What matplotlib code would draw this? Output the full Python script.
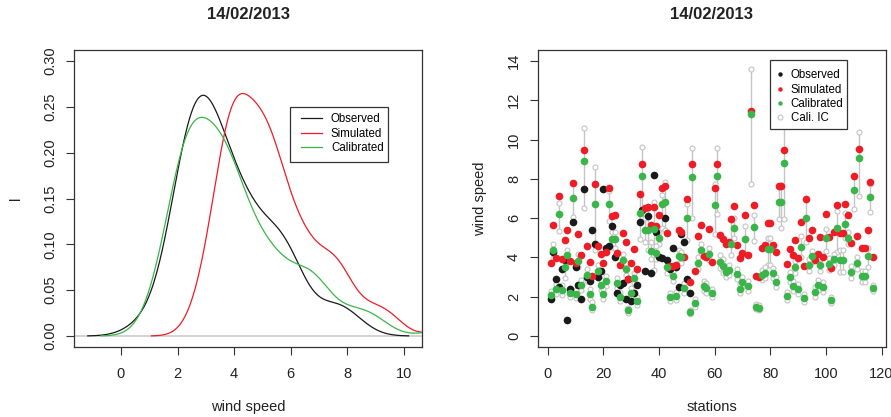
import numpy as np
import matplotlib
matplotlib.use("Agg")
import matplotlib.pyplot as plt
from matplotlib.patches import Rectangle

plt.rcParams['font.family'] = ['Liberation Sans', 'DejaVu Sans']

title = "14/02/2013"

# observed wind speed (only first 51 stations have observations)
observed = [1.9, 4.3, 2.9, 2.5, 3.4, 3.85, 0.8, 2.4, 5.8, 3.5,
            2.6, 1.9, 7.5, 3.0, 2.8, 5.4, 4.7, 3.0, 3.3, 7.5,
            4.5, 4.6, 5.6, 4.0, 2.2, 2.6, 2.7, 1.9, 2.9, 1.8,
            2.2, 2.6, 5.8, 6.4, 3.3, 6.1, 3.2, 8.2, 5.3, 4.0,
            3.95, 6.0, 3.85, 3.4, 4.5, 3.5, 2.5, 5.2, 4.8, 2.9,
            2.2]

simulated = [3.7, 5.65, 3.95, 7.15, 3.9, 4.9, 5.4, 3.8, 7.8, 3.7,
             5.2, 4.1, 9.45, 4.6, 3.75, 3.05, 7.75, 4.6, 4.15, 3.7,
             4.3, 7.55, 6.1, 6.15, 4.25, 3.6, 5.25, 4.8, 2.9, 3.7,
             4.45, 3.4, 7.25, 8.75, 6.5, 6.55, 5.65, 6.55, 5.6, 6.15,
             7.55, 7.65, 5.25, 3.55, 3.55, 3.6, 5.4, 5.3, 4.0, 7.0,
             2.75, 8.75, 3.3, 5.1, 5.65, 4.05, 4.0, 5.45, 3.75, 7.55,
             8.75, 5.15, 4.95, 4.7, 4.8, 5.95, 6.6, 4.65, 3.95, 4.25,
             6.15, 4.1, 11.45, 6.65, 3.05, 3.0, 4.5, 4.65, 5.75, 5.75,
             4.65, 4.3, 7.65, 7.65, 9.45, 3.65, 4.45, 4.1, 4.9, 3.95,
             5.8, 3.55, 7.0, 5.0, 5.4, 3.85, 4.15, 5.05, 4.0, 6.2,
             5.05, 3.45, 5.3, 6.65, 5.25, 5.25, 6.7, 6.15, 4.75, 8.15,
             5.1, 9.5, 4.5, 4.5, 5.4, 7.85, 4.0]

calibrated = [2.1, 4.4, 2.4, 6.2, 2.35, 3.5, 4.1, 2.2, 7.05, 2.15,
              3.8, 2.6, 8.9, 3.1, 2.15, 1.5, 6.7, 3.3, 2.6, 2.15,
              2.8, 6.7, 4.95, 4.95, 2.7, 2.0, 3.85, 3.4, 1.3, 2.2,
              2.95, 1.8, 6.25, 8.15, 5.4, 5.4, 4.35, 5.45, 4.25, 5.0,
              6.7, 6.8, 3.5, 2.0, 3.05, 2.05, 4.05, 4.0, 2.45, 6.0,
              1.2, 8.1, 1.7, 3.7, 4.4, 2.55, 2.45, 4.15, 2.2, 6.65,
              8.15, 3.75, 3.55, 3.25, 3.35, 4.7, 5.5, 3.15, 2.4, 2.75,
              4.95, 2.55, 11.3, 5.55, 1.5, 1.45, 3.1, 3.2, 4.45, 4.45,
              3.2, 2.75, 6.8, 6.8, 8.8, 2.05, 3.0, 2.55, 3.5, 2.4,
              4.55, 1.95, 6.0, 3.6, 4.05, 2.25, 2.6, 3.6, 2.5, 5.0,
              3.65, 1.85, 3.9, 5.5, 3.85, 3.85, 5.7, 5.0, 3.25, 7.45,
              3.7, 9.05, 3.05, 3.05, 4.05, 7.1, 2.45]

ic_low = [1.9, 3.95, 2.15, 5.35, 2.1, 2.95, 3.8, 2.0, 6.05, 1.95,
          3.5, 2.35, 6.5, 2.8, 1.9, 1.3, 4.4, 3.0, 2.35, 1.9,
          2.55, 5.85, 4.5, 4.5, 2.45, 1.8, 3.55, 3.1, 1.15, 1.95,
          2.7, 1.6, 4.95, 6.0, 4.8, 4.4, 3.9, 3.35, 3.9, 4.7,
          5.5, 5.4, 3.2, 1.8, 2.8, 1.85, 3.7, 3.7, 2.2, 4.9,
          1.1, 6.0, 1.5, 3.4, 4.1, 2.3, 2.2, 3.85, 2.0, 5.2,
          6.2, 3.45, 3.2, 3.0, 3.1, 4.1, 5.0, 2.9, 2.2, 2.5,
          4.15, 2.3, 7.75, 4.85, 1.35, 1.3, 2.85, 2.95, 3.6, 3.6,
          2.95, 2.5, 5.95, 5.5, 5.95, 1.85, 2.75, 2.3, 3.2, 2.15,
          4.0, 1.75, 4.8, 3.3, 3.75, 2.0, 2.35, 3.3, 2.25, 4.35,
          3.35, 1.7, 3.6, 4.3, 3.25, 3.25, 5.0, 4.7, 2.95, 6.45,
          3.4, 7.15, 2.75, 2.75, 3.5, 6.3, 2.3]

ic_high = [2.3, 4.7, 2.65, 6.75, 2.6, 3.9, 4.4, 2.45, 7.8, 2.35,
           4.15, 2.85, 10.6, 3.4, 2.4, 1.75, 8.6, 3.6, 2.85, 2.4,
           3.05, 7.4, 5.3, 5.3, 2.95, 2.25, 4.15, 3.7, 1.45, 2.45,
           3.2, 2.0, 7.25, 9.6, 6.0, 6.5, 4.8, 6.8, 4.6, 5.3,
           7.2, 7.85, 3.8, 2.2, 3.3, 2.25, 4.4, 4.3, 2.7, 6.7,
           1.3, 9.55, 1.9, 4.0, 4.7, 2.8, 2.7, 4.5, 2.4, 7.75,
           9.55, 4.1, 3.9, 3.5, 3.6, 5.9, 6.0, 3.4, 2.65, 3.0,
           5.6, 2.8, 13.6, 6.15, 1.65, 1.6, 3.35, 3.5, 5.0, 5.0,
           3.45, 3.0, 7.6, 7.7, 11.0, 2.25, 3.25, 2.8, 3.8, 2.65,
           5.1, 2.15, 6.9, 3.9, 4.35, 2.5, 2.85, 3.9, 2.75, 5.45,
           3.95, 2.0, 4.2, 6.35, 4.4, 4.4, 6.25, 5.3, 3.55, 8.1,
           4.0, 10.4, 3.3, 3.3, 4.5, 7.75, 2.6]

c_obs = '#1a1a1a'
c_sim = '#ee1c25'
c_cal = '#3ab54a'
c_ic = '#c4c4c4'


def density(x, n=512, cut=3):
    # gaussian kde like R's density() with bw.nrd0
    x = np.asarray(x, dtype=float)
    x = x[~np.isnan(x)]
    sd = np.std(x, ddof=1)
    q75, q25 = np.percentile(x, [75, 25])
    bw = 0.9 * min(sd, (q75 - q25) / 1.34) * len(x) ** -0.2
    grid = np.linspace(x.min() - cut * bw, x.max() + cut * bw, n)
    z = (grid[:, None] - x[None, :]) / bw
    y = np.exp(-0.5 * z ** 2).sum(axis=1) / (len(x) * bw * np.sqrt(2 * np.pi))
    return grid, y


def r_style(ax):
    for s in ax.spines.values():
        s.set_color('#333333')
        s.set_linewidth(0.9)
    ax.tick_params(direction='out', length=6, width=0.8, color='#333333',
                   labelsize=10.5, labelcolor='#222222')
    ax.tick_params(axis='x', pad=8.5)
    ax.tick_params(axis='y', pad=6)
    for lab in ax.get_yticklabels():
        lab.set_rotation(90)
        lab.set_va('center')


def legend_box(ax, x0, y0, x1, y1):
    # R-like tight legend frame
    ax.add_patch(Rectangle((x0, y0), x1 - x0, y1 - y0, transform=ax.transAxes,
                           facecolor='white', edgecolor='#333333', lw=0.9,
                           zorder=9, clip_on=False))


fig = plt.figure(figsize=(8.91, 4.17), dpi=100)
ax1 = fig.add_axes([0.0831, 0.1679, 0.3906, 0.7121])
ax2 = fig.add_axes([0.6035, 0.1679, 0.3910, 0.7121])

# ---- left: densities
ax1.axhline(0, color='#cccccc', lw=1.2, zorder=1)
for data, col, lab in [(observed, c_obs, 'Observed'),
                       (simulated, c_sim, 'Simulated'),
                       (calibrated, c_cal, 'Calibrated')]:
    gx, gy = density(data)
    ax1.plot(gx, gy, color=col, lw=0.9, label=lab, zorder=2)
ax1.set_xlim(-1.66, 10.65)
ax1.set_ylim(-0.012, 0.312)
ax1.set_xticks([0, 2, 4, 6, 8, 10])
ax1.set_yticks([0.0, 0.05, 0.10, 0.15, 0.20, 0.25, 0.30])
ax1.set_yticklabels(['0.00', '0.05', '0.10', '0.15', '0.20', '0.25', '0.30'])
r_style(ax1)
ax1.set_xlabel('wind speed', fontsize=10.5, labelpad=13.5, color='#222222')
ax1.set_ylabel('l', fontsize=10.5, labelpad=14.5, color='#222222')
ax1.set_title(title, fontsize=12, fontweight='bold', pad=22, color='#222222')
legend_box(ax1, 0.6207, 0.6229, 0.9023, 0.8081)
leg1 = ax1.legend(loc='upper left', bbox_to_anchor=(0.652, 0.787), fontsize=8.3,
                  frameon=False, handlelength=1.82, handletextpad=0.78,
                  borderpad=0, labelspacing=0.2, borderaxespad=0)
leg1.set_zorder(10)

# ---- right: stations
stations = np.arange(1, len(simulated) + 1)
obs_st = np.arange(1, len(observed) + 1)
ax2.vlines(stations, ic_low, ic_high, color=c_ic, lw=1.0, zorder=1)
ax2.plot(stations, ic_low, 'o', mfc='white', mec=c_ic, ms=3.6, mew=0.8, zorder=2)
ax2.plot(stations, ic_high, 'o', mfc='white', mec=c_ic, ms=3.6, mew=0.8, zorder=2)
ax2.plot(obs_st, observed, 'o', color=c_obs, ms=5.5, mew=0, zorder=3)
ax2.plot(stations, simulated, 'o', color=c_sim, ms=5.5, mew=0, zorder=4)
ax2.plot(stations, calibrated, 'o', color=c_cal, ms=5.5, mew=0, zorder=5)

h1, = ax2.plot([], [], 'o', color=c_obs, ms=3.2, mew=0)
h2, = ax2.plot([], [], 'o', color=c_sim, ms=3.2, mew=0)
h3, = ax2.plot([], [], 'o', color=c_cal, ms=3.2, mew=0)
h4, = ax2.plot([], [], 'o', mfc='white', mec=c_ic, ms=3.6, mew=0.8)
legend_box(ax2, 0.667, 0.7357, 0.888, 0.9652)
leg2 = ax2.legend([h1, h2, h3, h4], ['Observed', 'Simulated', 'Calibrated', 'Cali. IC'],
                  loc='upper left', bbox_to_anchor=(0.683, 0.935), fontsize=8.3,
                  frameon=False, handlelength=0.8, handletextpad=0.5,
                  borderpad=0, labelspacing=0.2, borderaxespad=0)
leg2.set_zorder(10)

ax2.set_xlim(-3.64, 121.64)
ax2.set_ylim(-0.56, 14.56)
ax2.set_xticks([0, 20, 40, 60, 80, 100, 120])
ax2.set_yticks([0, 2, 4, 6, 8, 10, 12, 14])
r_style(ax2)
ax2.set_xlabel('stations', fontsize=10.5, labelpad=13.5, color='#222222')
ax2.set_ylabel('wind speed', fontsize=10.5, labelpad=14.5, color='#222222')
ax2.set_title(title, fontsize=12, fontweight='bold', pad=22, color='#222222')

fig.savefig('out.png', dpi=100)
